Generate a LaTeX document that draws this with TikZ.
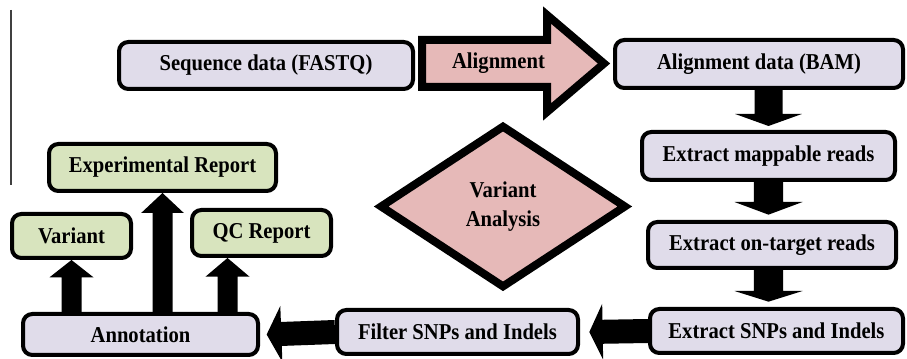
\documentclass[tikz,border=0pt]{standalone}
\usepackage{fontspec}
\setmainfont{Liberation Serif}[FakeStretch=0.91]
\usetikzlibrary{calc,shapes.geometric}
\definecolor{lav}{HTML}{E0DCEA}
\definecolor{grn}{HTML}{D8E4BE}
\definecolor{pnk}{HTML}{E6B9B8}
% block arrow: #1 start, #2 tip, #3 shaft half width, #4 head half width, #5 head length
\newcommand{\blockarrow}[5]{%
  \path (#1) coordinate (ba-A) (#2) coordinate (ba-B);
  \path ($(ba-B)!#5!(ba-A)$) coordinate (ba-H);
  \fill[black] ($(ba-A)!#3!90:(ba-B)$) -- ($(ba-H)!#3!90:(ba-B)$) -- ($(ba-H)!#4!90:(ba-B)$)
    -- (ba-B) -- ($(ba-H)!#4!-90:(ba-B)$) -- ($(ba-H)!#3!-90:(ba-B)$) -- ($(ba-A)!#3!-90:(ba-B)$) -- cycle;}
\begin{document}
\begin{tikzpicture}[x=0.75pt,y=-0.75pt,
  txt/.style={font=\fontsize{17}{22}\bfseries\selectfont, text=black},
  box/.style={txt, draw=black, line width=3pt, rounded corners=7pt, inner sep=0pt, align=center},
  lbox/.style={box, fill=lav},
  gbox/.style={box, fill=grn},
  sz/.style 2 args={minimum width=#1*0.75pt, minimum height=#2*0.75pt}]
\useasboundingbox (0,0) rectangle (907,359);
\fill[white] (0,0) rectangle (907,359);
\draw[line width=0.8pt, black!75] (11,10) -- (11,185);

% boxes
\node[lbox, sz={294}{47}] (seq) at (266,65.5) {Sequence data (FASTQ)};
\node[lbox, sz={288}{48}] (bam) at (759,64) {Alignment data (BAM)};
\node[lbox, sz={253}{48}] (map) at (768.5,156) {Extract mappable reads};
\node[lbox, sz={248}{46}] (ont) at (772,245) {Extract on-target reads};
\node[lbox, sz={253}{44}] (snp) at (776.5,331) {Extract SNPs and Indels};
\node[lbox, sz={241}{44}] (filt) at (457.5,332) {Filter SNPs and Indels};
\node[lbox, sz={235}{41}] (ann) at (140.5,334.5) {Annotation};
\node[gbox, sz={119}{44}] (var) at (71.5,236) {Variant};
\node[gbox, sz={139}{46}] (qc) at (261.5,233) {QC Report};
\node[gbox, sz={227}{47}] (exp) at (162.5,167.5) {Experimental Report};

% diamond
\node[diamond, draw=black, fill=pnk, line width=6pt, inner sep=0pt, sz={247}{163}, txt, align=center] (va) at (503,206.5) {Variant\\Analysis};

% alignment arrow
\draw[line width=6pt, fill=pnk, line join=miter] (422,40) -- (547,40) -- (547,15) -- (604,63.5) -- (547,112) -- (547,87) -- (422,87) -- cycle;
\node[txt] (al) at (498.5,63) {Alignment};

% down arrows
\blockarrow{map.north |- bam.south}{[yshift=3pt]map.north}{10.5pt}{25pt}{9pt}
\blockarrow{map.south}{[yshift=4pt]map.south |- ont.north}{11pt}{25.5pt}{9.5pt}
\blockarrow{map.south |- ont.south}{[yshift=4pt]map.south |- snp.north}{11pt}{25.5pt}{8pt}
% left arrows
\blockarrow{snp.west}{[xshift=7pt]filt.east}{9pt}{21pt}{10pt}
\blockarrow{filt.west}{[xshift=5pt]ann.east}{9pt}{21pt}{11pt}
% up arrows
\blockarrow{var.south |- ann.north}{var.south}{7.5pt}{16.5pt}{13pt}
\blockarrow{exp.south |- ann.north}{exp.south}{7.5pt}{16pt}{15pt}
\blockarrow{[xshift=-25.5pt]qc.south |- ann.north}{[xshift=-25.5pt]qc.south}{7.5pt}{16.5pt}{14pt}
\end{tikzpicture}
\end{document}
